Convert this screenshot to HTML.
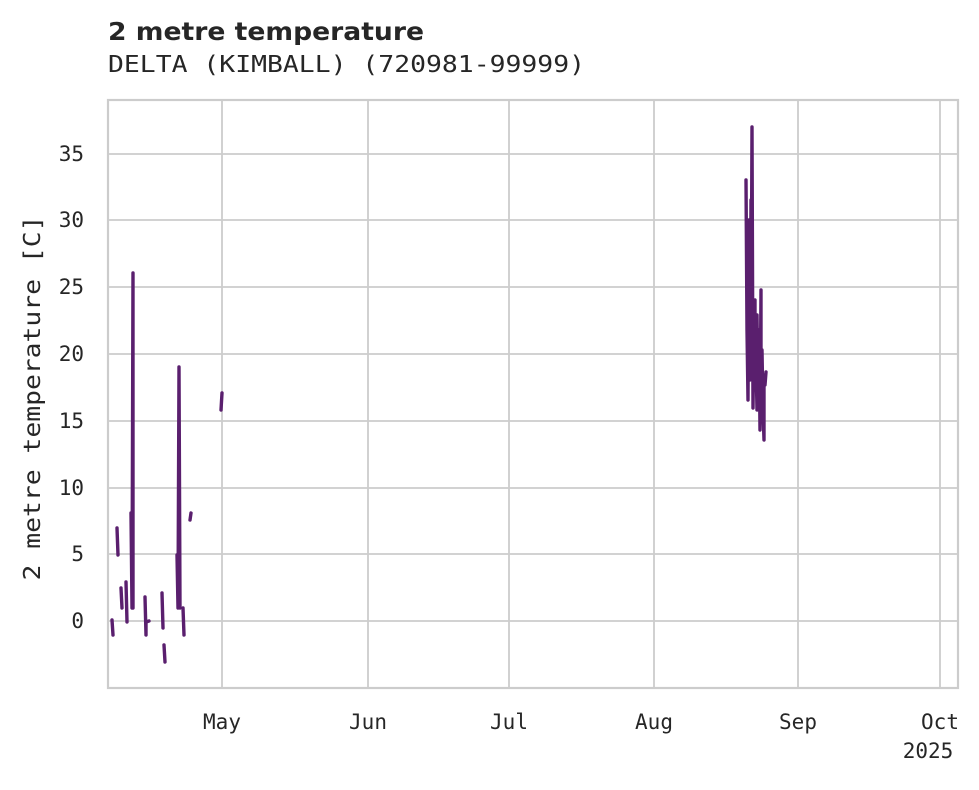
<!DOCTYPE html>
<html><head><style>
body{margin:0;background:#fff;}
svg text{font-family:"DejaVu Sans Mono","Liberation Mono",monospace;fill:#262626;}
</style></head><body>
<svg width="979" height="785" xmlns="http://www.w3.org/2000/svg">
<rect width="979" height="785" fill="#fff"/>
<g stroke="#cccccc" stroke-width="1.8">
<line x1="222" y1="100" x2="222" y2="688"/><line x1="368" y1="100" x2="368" y2="688"/>
<line x1="509" y1="100" x2="509" y2="688"/><line x1="654" y1="100" x2="654" y2="688"/>
<line x1="798" y1="100" x2="798" y2="688"/><line x1="940" y1="100" x2="940" y2="688"/>
<line x1="108" y1="154" x2="958" y2="154"/><line x1="108" y1="220" x2="958" y2="220"/>
<line x1="108" y1="287" x2="958" y2="287"/><line x1="108" y1="354" x2="958" y2="354"/>
<line x1="108" y1="421" x2="958" y2="421"/><line x1="108" y1="488" x2="958" y2="488"/>
<line x1="108" y1="554" x2="958" y2="554"/><line x1="108" y1="621" x2="958" y2="621"/>
</g>
<rect x="108" y="100" width="850" height="588" fill="none" stroke="#cccccc" stroke-width="2.2"/>
<g stroke="#5a1f6e" stroke-width="3.4" fill="none" stroke-linecap="round" stroke-linejoin="round">
<polyline points="112,620 113,635"/>
<polyline points="117,528 118,555"/>
<polyline points="121,588 122,608"/>
<polyline points="126,582 127,622"/>
<polyline points="131,513 132,608 133,273 133,608"/>
<polyline points="145,597 146,635 146,622 149,621"/>
<polyline points="162,593 163,628"/>
<polyline points="164,645 165,662"/>
<polyline points="177,555 178,608 179,367 180,608"/>
<polyline points="183,608 184,635"/>
<polyline points="191,513 190,520"/>
<polyline points="222,393 221,410"/>
<polyline points="746,180 747,330 748,400 749,220 750,380 751,200 751,360 752,127 753,408 754,330 755,300 755,390 756,360 757,410 757,315 758,400 759,330 760,430 761,290 761,420 762,350 763,410 764,440 764,375 765,385 766,372"/>
</g>
<g font-size="21" text-anchor="end">
<text x="84" y="161">35</text><text x="84" y="227">30</text><text x="84" y="294">25</text>
<text x="84" y="361">20</text><text x="84" y="428">15</text><text x="84" y="495">10</text>
<text x="84" y="561">5</text><text x="84" y="628">0</text>
</g>
<g font-size="21" text-anchor="middle">
<text x="222" y="729">May</text><text x="368" y="729">Jun</text><text x="509" y="729">Jul</text>
<text x="654" y="729">Aug</text><text x="798" y="729">Sep</text><text x="940" y="729">Oct</text>
<text x="928" y="758">2025</text>
</g>
<text x="40" y="398" font-size="23" text-anchor="middle" textLength="365" lengthAdjust="spacingAndGlyphs" transform="rotate(-90 40 398)">2 metre temperature [C]</text>
<text x="108" y="40" font-size="25" font-weight="bold" textLength="316" lengthAdjust="spacingAndGlyphs" style="font-family:'DejaVu Sans','Liberation Sans',sans-serif">2 metre temperature</text>
<text x="108" y="72" font-size="23" textLength="477" lengthAdjust="spacingAndGlyphs">DELTA (KIMBALL) (720981-99999)</text>
</svg>
</body></html>
